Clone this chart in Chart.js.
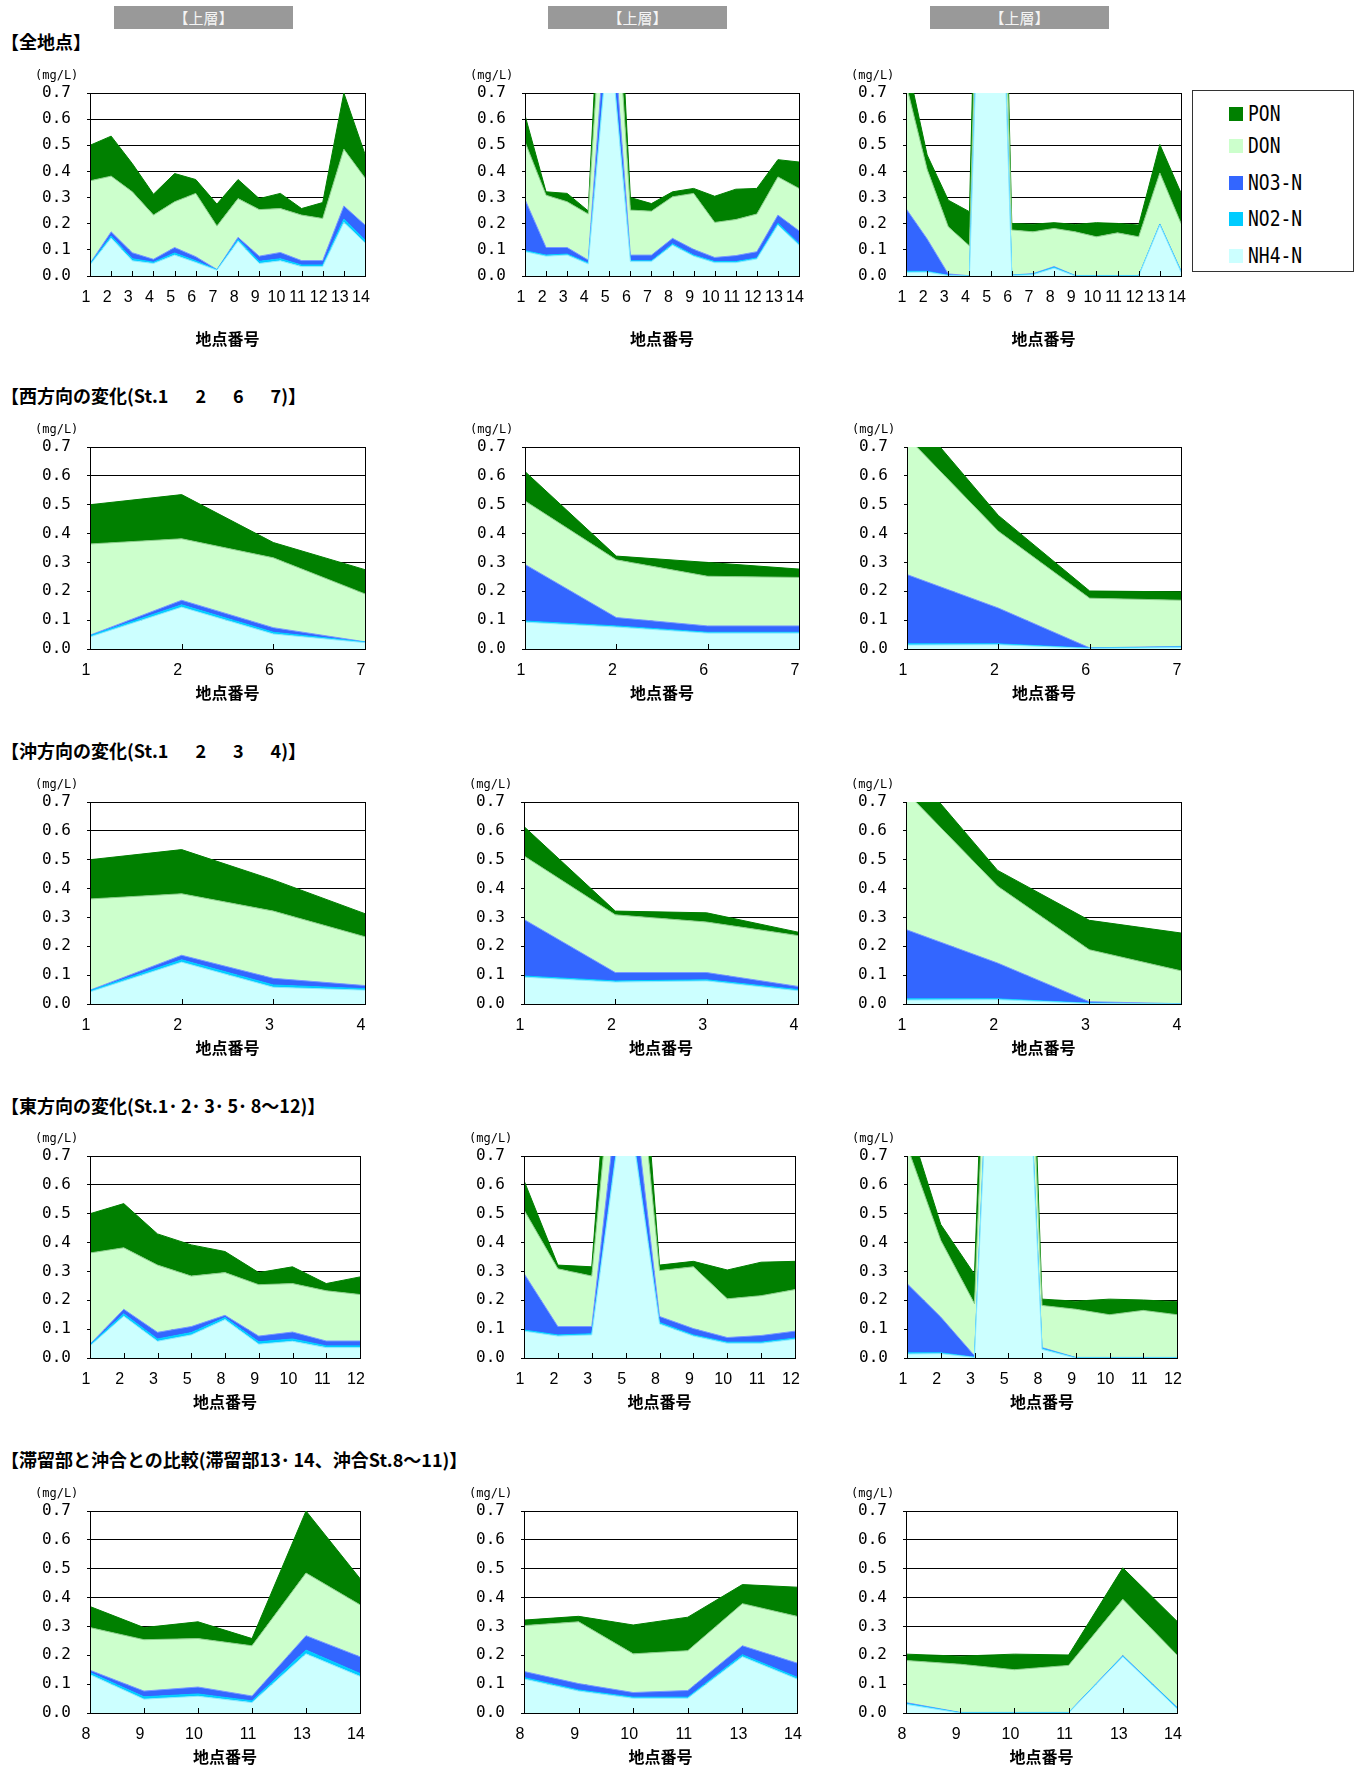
<!DOCTYPE html>
<html>
<head>
<meta charset="utf-8">
<title>窒素形態別濃度（上層）</title>
<script src="https://cdn.jsdelivr.net/npm/chart.js"></script>
<style>
    body { margin: 0; background: #fff; width: 1367px; height: 1769px; position: relative; overflow: hidden;
           font-family: "Noto Sans CJK JP", sans-serif; }
    .head { position: absolute; top: 6px; height: 23px; background: #999; color: #f4f4f4;
            font-size: 15px; line-height: 23px; text-align: center; }
    .rowTitle { position: absolute; left: 1px; font-size: 18px; font-weight: bold; line-height: 22px;
                white-space: pre; letter-spacing: 0; }
    .unit { position: absolute; font-family: "DejaVu Sans Mono", monospace; font-size: 12px; line-height: 14px; }
    #legend { position: absolute; left: 1192px; top: 90px; width: 160px; height: 180px; border: 1px solid #333; }
    .item { position: absolute; left: 36px; height: 20px; }
    .item .sw { position: absolute; left: 0; top: 3px; width: 14px; height: 14px; }
    .item .tx { position: absolute; left: 19px; top: 0; font-family: "DejaVu Sans Mono", monospace;
                font-size: 18px; line-height: 20px; transform: scaleY(1.2); white-space: nowrap; }
</style>
</head>
<body>
<div class="head" style="left:114px;width:179px">【上層】</div>
<div class="head" style="left:548px;width:179px">【上層】</div>
<div class="head" style="left:930px;width:179px">【上層】</div>
<div id="legend"></div>

<script>
    // series (bottom of the stack first)
    const seriesNames = ['NH4-N', 'NO2-N', 'NO3-N', 'DON', 'PON'];
    const seriesColors = ['#CCFFFF', '#00CCFF', '#3366FF', '#CCFFCC', '#008000'];
    const lineColors = ['#88E8FF', '#00CCFF', '#7799FF', '#88CC88', '#008000'];

    // station 1..14, left column (mg/L)
    const nh4A = [0.042, 0.145, 0.058, 0.048, 0.080, 0.052, 0.022, 0.133, 0.048, 0.058, 0.036, 0.036, 0.205, 0.127];
    const no2A = [0.004, 0.008, 0.008, 0.005, 0.008, 0.006, 0.002, 0.007, 0.008, 0.008, 0.006, 0.006, 0.013, 0.010];
    const no3A = [0.002, 0.016, 0.023, 0.011, 0.021, 0.016, 0.001, 0.008, 0.020, 0.024, 0.017, 0.017, 0.050, 0.058];
    const donA = [0.316, 0.213, 0.233, 0.169, 0.175, 0.242, 0.166, 0.148, 0.178, 0.168, 0.174, 0.161, 0.217, 0.180];
    const ponA = [0.136, 0.153, 0.108, 0.080, 0.108, 0.053, 0.084, 0.073, 0.042, 0.058, 0.025, 0.061, 0.215, 0.091];

    // middle column
    const nh4B = [0.093, 0.076, 0.080, 0.046, 0.950, 0.055, 0.055, 0.118, 0.076, 0.051, 0.051, 0.065, 0.195, 0.118];
    const no2B = [0.004, 0.004, 0.004, 0.004, 0.010, 0.003, 0.003, 0.005, 0.004, 0.004, 0.004, 0.004, 0.007, 0.006];
    const no3B = [0.196, 0.029, 0.025, 0.011, 0.190, 0.022, 0.022, 0.021, 0.022, 0.016, 0.023, 0.024, 0.031, 0.049];
    const donB = [0.220, 0.200, 0.175, 0.176, 0.360, 0.172, 0.168, 0.159, 0.214, 0.134, 0.138, 0.144, 0.146, 0.162];
    const ponB = [0.102, 0.013, 0.032, 0.012, 0.350, 0.048, 0.029, 0.019, 0.019, 0.100, 0.116, 0.098, 0.066, 0.101];

    // right column
    const nh4C = [0.014, 0.015, 0.002, 0.000, 2.600, 0.002, 0.005, 0.030, 0.000, 0.000, 0.000, 0.000, 0.195, 0.015];
    const no2C = [0.004, 0.003, 0.001, 0.000, 0.010, 0.001, 0.002, 0.003, 0.001, 0.001, 0.001, 0.001, 0.002, 0.003];
    const no3C = [0.240, 0.124, 0.005, 0.001, 0.050, 0.001, 0.002, 0.003, 0.001, 0.001, 0.001, 0.001, 0.002, 0.002];
    const donC = [0.477, 0.266, 0.180, 0.114, 0.400, 0.172, 0.160, 0.146, 0.167, 0.148, 0.163, 0.148, 0.195, 0.181];
    const ponC = [0.100, 0.055, 0.102, 0.131, 0.500, 0.025, 0.029, 0.022, 0.028, 0.054, 0.036, 0.045, 0.109, 0.117];

    const panels = [
        [nh4A, no2A, no3A, donA, ponA],
        [nh4B, no2B, no3B, donB, ponB],
        [nh4C, no2C, no3C, donC, ponC]
    ];

    const rowTitles = [
        '【全地点】',
        '【西方向の変化(St.1\u3000\u20022\u3000\u20026\u3000\u20027)】',
        '【沖方向の変化(St.1\u3000\u20022\u3000\u20023\u3000\u20024)】',
        '【東方向の変化(St.1･\u20092･\u20093･\u20095･\u20098～12)】',
        '【滞留部と沖合との比較(滞留部13･\u200914、沖合St.8～11)】'
    ];
    const rowStations = [
        [1, 2, 3, 4, 5, 6, 7, 8, 9, 10, 11, 12, 13, 14],
        [1, 2, 6, 7],
        [1, 2, 3, 4],
        [1, 2, 3, 5, 8, 9, 10, 11, 12],
        [8, 9, 10, 11, 13, 14]
    ];
    const yTicks = [0, 0.1, 0.2, 0.3, 0.4, 0.5, 0.6, 0.7];

    // page layout (plot area edges in px)
    const titleTop = [30, 384, 739, 1094, 1448];
    const rowTop = [93, 447, 802, 1156, 1511];
    const rowPlotH = [183, 202, 202, 202, 202];
    const rowAxisH = [73, 54, 54, 54, 54];
    const colLeft = [[90, 525, 906], [90, 525, 907], [90, 524, 906], [90, 524, 907], [90, 524, 906]];
    const colRight = [[365, 799, 1181], [365, 799, 1181], [365, 798, 1181], [360, 795, 1177], [360, 797, 1177]];

    const framePlugin = {
        id: 'frame',
        beforeDatasetsDraw(chart) {
            const { ctx, chartArea: a } = chart;
            ctx.save();
            ctx.strokeStyle = '#000';
            ctx.lineWidth = 1;
            ctx.strokeRect(Math.round(a.left) + 0.5, Math.round(a.top) + 0.5,
                Math.round(a.right - a.left), Math.round(a.bottom - a.top));
            ctx.restore();
        },
        afterDatasetsDraw(chart) {
            const { ctx, chartArea: a, scales: { x } } = chart;
            ctx.save();
            ctx.strokeStyle = '#000';
            ctx.lineWidth = 1;
            ctx.beginPath();
            for (let i = 0; i < x.ticks.length; i++) {
                const px = Math.round(x.getPixelForTick(i)) + 0.5;
                ctx.moveTo(px, a.bottom);
                ctx.lineTo(px, a.bottom - 5);
            }
            ctx.moveTo(Math.round(a.left) + 0.5, a.top);
            ctx.lineTo(Math.round(a.left) + 0.5, a.bottom);
            ctx.moveTo(a.left, Math.round(a.bottom) + 0.5);
            ctx.lineTo(a.right, Math.round(a.bottom) + 0.5);
            ctx.stroke();
            ctx.restore();
        }
    };

    function makeChart(r, c) {
        const L = colLeft[r][c], R = colRight[r][c], T = rowTop[r];
        const H = rowPlotH[r], AX = rowAxisH[r];
        const padL = 60, padT = 12, padR = 22;
        const W = R - L + padL + padR, HH = padT + H + AX;

        const cv = document.createElement('canvas');
        cv.width = W;
        cv.height = HH;
        cv.style.cssText = `position:absolute;left:${L - padL}px;top:${T - padT}px;width:${W}px;height:${HH}px`;
        document.body.appendChild(cv);

        const unit = document.createElement('div');
        unit.className = 'unit';
        unit.style.left = (L - 55) + 'px';
        unit.style.top = (T - 25) + 'px';
        unit.textContent = '(mg/L)';
        document.body.appendChild(unit);

        const idx = rowStations[r];
        const datasets = panels[c].map((arr, k) => ({
            label: seriesNames[k],
            data: idx.map(s => arr[s - 1]),
            backgroundColor: seriesColors[k],
            borderColor: lineColors[k],
            borderWidth: 1,
            pointRadius: 0,
            tension: 0,
            fill: k === 0 ? 'origin' : '-1',
            clip: 0
        }));

        new Chart(cv, {
            type: 'line',
            data: { labels: idx.map(String), datasets },
            plugins: [framePlugin],
            options: {
                responsive: false,
                animation: false,
                events: [],
                layout: { padding: { top: padT, right: padR, left: 0, bottom: 0 } },
                plugins: { legend: { display: false }, tooltip: { enabled: false } },
                scales: {
                    x: {
                        offset: false,
                        grid: { display: false, drawTicks: false },
                        border: { display: true, color: '#000' },
                        ticks: {
                            autoSkip: false, maxRotation: 0, padding: 12, labelOffset: -4, color: '#000',
                            font: { family: 'Liberation Sans', size: 16 }
                        },
                        title: {
                            display: true, text: '地点番号', padding: 0, color: '#000',
                            font: { family: 'Noto Sans CJK JP', size: 16, weight: 'bold' }
                        },
                        afterFit: s => { s.height = AX; s.paddingLeft = 0; s.paddingRight = 0; }
                    },
                    y: {
                        stacked: true,
                        min: yTicks[0],
                        max: yTicks[yTicks.length - 1],
                        afterBuildTicks: s => { s.ticks = yTicks.map(v => ({ value: v })); },
                        grid: { color: '#000', lineWidth: 1, tickLength: 3 },
                        border: { display: true, color: '#000' },
                        ticks: {
                            padding: 16, color: '#000',
                            font: { family: 'DejaVu Sans Mono', size: 16 },
                            callback: v => Number(v).toFixed(1)
                        },
                        afterFit: s => { s.width = padL; s.paddingTop = 0; s.paddingBottom = 0; }
                    }
                }
            }
        });
    }

    rowTitles.forEach((t, r) => {
        const d = document.createElement('div');
        d.className = 'rowTitle';
        d.style.top = titleTop[r] + 'px';
        d.textContent = t;
        document.body.appendChild(d);
        for (let c = 0; c < 3; c++) makeChart(r, c);
    });

    // legend, top entry = top of the stack
    const legendTops = [13, 45, 82, 118, 155];
    const legend = document.getElementById('legend');
    seriesNames.slice().reverse().forEach((name, i) => {
        const k = seriesNames.length - 1 - i;
        const it = document.createElement('div');
        it.className = 'item';
        it.style.top = legendTops[i] + 'px';
        it.innerHTML = `<span class="sw" style="background:${seriesColors[k]}"></span><span class="tx">${name}</span>`;
        legend.appendChild(it);
    });
</script>
</body>
</html>
